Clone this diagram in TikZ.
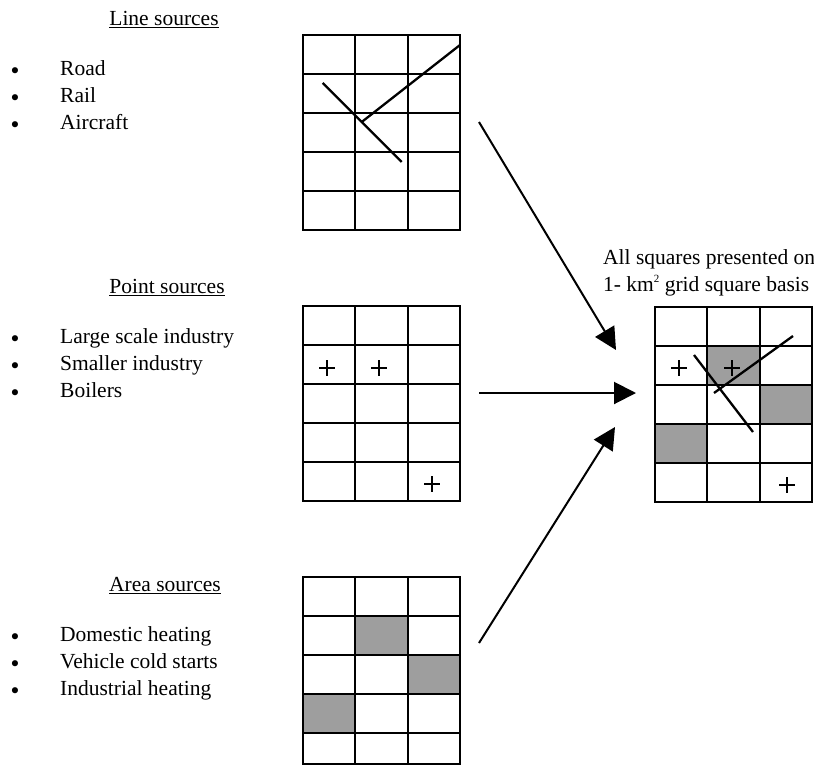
\documentclass[tikz,border=0pt]{standalone}
\usepackage{fontspec}
\setmainfont{Liberation Serif}
\newfontfamily\bulfont{DejaVu Sans}
\usetikzlibrary{arrows.meta}
\newcommand\cellgrid[4]{%
  \node[draw, gridline, minimum width=157pt, minimum height=#4pt, anchor=north west, inner sep=0pt, outer sep=0pt] (#1) at (#2,#3) {};
  \foreach \i in {1,2} \draw[gridline] ({#2+52.33*\i},#3) -- ++(0,#4);
  \foreach \j in {1,...,4} \draw[gridline] (#2,{#3+39*\j}) -- ++(157,0);
}
\newcommand\plusmark[2]{\draw[plusline] ({#1-8},#2) -- ++(16,0) (#1,{#2-8}) -- ++(0,16);}
\begin{document}
\begin{tikzpicture}[x=1pt,y=-1pt,
  txt/.style={inner sep=0pt, font=\fontsize{21.5}{27}\selectfont, text height=1.5ex, text depth=.25ex},
  head/.style={txt, anchor=center},
  item/.style={txt, anchor=west},
  bul/.style={inner sep=0pt, anchor=base, font=\bulfont\fontsize{21}{21}\selectfont, text height=12pt, text depth=0pt},
  gridline/.style={line width=1.9pt},
  srcline/.style={line width=2.3pt},
  plusline/.style={line width=2.4pt},
  shade/.style={fill=black!38},
  flow/.style={line width=2pt, -{Triangle[length=22pt,width=22pt]}}]
\useasboundingbox (0,0) rectangle (814,766);

% ---- left texts
\node[head] (h1) at (164,23) {\underline{Line sources}};
\node[bul] (b11) at (15,78) {•};  \node[item] (i11) at (60,73) {Road};
\node[bul] (b12) at (15,105) {•}; \node[item] (i12) at (60,100) {Rail};
\node[bul] (b13) at (15,132) {•}; \node[item] (i13) at (60,127) {Aircraft};

\node[head] (h2) at (167,291) {\underline{Point sources}};
\node[bul] (b21) at (15,346) {•}; \node[item] (i21) at (60,341) {Large scale industry};
\node[bul] (b22) at (15,373) {•}; \node[item] (i22) at (60,368) {Smaller industry};
\node[bul] (b23) at (15,400) {•}; \node[item] (i23) at (60,395) {Boilers};

\node[head] (h3) at (165,589) {\underline{Area sources}};
\node[bul] (b31) at (15,644) {•}; \node[item] (i31) at (60,639) {Domestic heating};
\node[bul] (b32) at (15,671) {•}; \node[item] (i32) at (60,666) {Vehicle cold starts};
\node[bul] (b33) at (15,698) {•}; \node[item] (i33) at (60,693) {Industrial heating};

\node[item] (t1) at (603,262) {All squares presented on};
\node[item] (t2) at (603,289) {1- km\raisebox{0.9ex}{\fontsize{11}{11}\selectfont 2} grid square basis};

% ---- shading
\fill[shade] (355.33,616) rectangle (407.67,655);
\fill[shade] (407.67,655) rectangle (460,694);
\fill[shade] (303,694) rectangle (355.33,733);
\fill[shade] (707.33,346) rectangle (759.67,385);
\fill[shade] (759.67,385) rectangle (812,424);
\fill[shade] (655,424) rectangle (707.33,463);

% ---- grids
\cellgrid{g1}{303}{35}{195}
\cellgrid{g2}{303}{306}{195}
\cellgrid{g3}{303}{577}{187}
\cellgrid{g4}{655}{307}{195}

% ---- source lines
\draw[srcline] (322.7,83) -- (401.7,162);
\draw[srcline] (361.7,122) -- (460,45);
\draw[srcline] (694,355) -- (753,432);
\draw[srcline] (714,393) -- (793,336);

% ---- plus marks
\plusmark{327}{368}
\plusmark{379}{368}
\plusmark{432}{484}
\plusmark{679}{368}
\plusmark{732}{368}
\plusmark{787}{485}

% ---- arrows
\coordinate (a1s) at (479,122); \coordinate (a1e) at (616,350);
\coordinate (a2s) at (479,393); \coordinate (a2e) at (636,393);
\coordinate (a3s) at (479,643); \coordinate (a3e) at (615,427);
\draw[flow] (a1s) -- (a1e);
\draw[flow] (a2s) -- (a2e);
\draw[flow] (a3s) -- (a3e);
\end{tikzpicture}
\end{document}
